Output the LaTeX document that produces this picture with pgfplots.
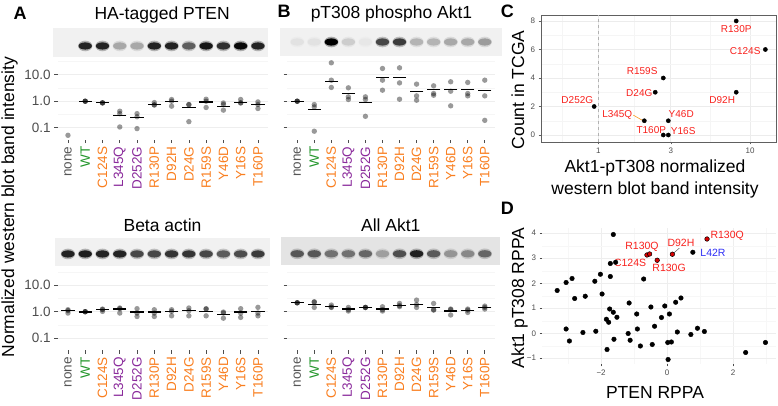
\documentclass[border=0pt]{standalone}
\usepackage{fontspec}
\setmainfont{Liberation Sans}
\usepackage{pgfplots}
\usepackage{pgfplotstable}
\pgfplotsset{compat=1.18}
\definecolor{cnone}{HTML}{555555}
\definecolor{cgreen}{HTML}{23962B}
\definecolor{corange}{HTML}{F97E1F}
\definecolor{cpurple}{HTML}{8A2A9B}
\definecolor{cred}{HTML}{F8201C}
\definecolor{cblue}{HTML}{2E2EF5}
\definecolor{ctick}{HTML}{4D4D4D}
\definecolor{blotbg}{HTML}{F1F1F1}
\definecolor{blotbgB}{HTML}{E4E4E4}

% ---------- data ----------
\pgfplotstableread{
x y i
0 0.38 0
1 0.38 0.85
2 0.38 0.85
3 0.38 0.30
4 0.38 0.30
5 0.38 0.85
6 0.38 0.85
7 0.38 0.60
8 0.38 0.90
9 0.38 0.80
10 0.38 0.95
11 0.38 0.85
}\blotAtop
\pgfplotstableread{
x y i
0 0.5 0.06
1 0.5 0.06
2 0.5 1.00
3 0.5 0.15
4 0.5 0.04
5 0.5 0.70
6 0.5 0.75
7 0.5 0.25
8 0.5 0.25
9 0.5 0.30
10 0.5 0.30
11 0.5 0.35
}\blotBtop
\pgfplotstableread{
x y i
0 0.43 0.85
1 0.43 0.88
2 0.43 0.85
3 0.43 0.85
4 0.43 0.70
5 0.43 0.70
6 0.43 0.78
7 0.43 0.78
8 0.43 0.70
9 0.43 0.62
10 0.43 0.68
11 0.43 0.75
}\blotAbot
\pgfplotstableread{
x y i
0 0.40 0.62
1 0.40 0.62
2 0.40 0.50
3 0.40 0.50
4 0.40 0.55
5 0.40 0.30
6 0.40 0.65
7 0.40 0.85
8 0.40 0.60
9 0.40 0.35
10 0.40 0.40
11 0.40 0.55
}\blotBbot

\pgfplotstableread{
x y
0 0.052
1 1.0
1 1.0
1 1.0
2 0.87
2 0.87
2 0.86
3 0.42
3 0.34
3 0.107
4 0.34
4 0.26
4 0.093
5 0.89
5 0.73
5 0.72
6 1.16
6 1.0
6 0.65
7 0.75
7 0.74
7 0.17
8 1.19
8 1.0
8 0.58
9 0.86
9 0.75
9 0.46
10 1.16
10 0.87
10 0.86
11 0.94
11 0.75
11 0.53
}\Atoppts
\pgfplotstableread{
x y
1 1.0
2 0.87
3 0.29
4 0.25
5 0.77
6 0.97
7 0.58
8 0.94
9 0.65
10 0.89
11 0.75
}\Atopmed

\pgfplotstableread{
x y
0 1.0
0 1.0
0 1.0
1 0.75
1 0.61
1 0.074
2 28
2 6.2
2 3.3
3 3.2
3 1.46
3 1.16
4 1.46
4 1.16
4 0.27
5 17.1
5 6.2
5 2.6
6 18.1
6 4.9
6 1.19
7 4.4
7 1.59
7 1.09
8 3.8
8 1.95
8 1.68
9 5.4
9 2.38
9 0.67
10 5.1
10 1.95
10 1.59
11 6.2
11 1.59
11 0.19
}\Btoppts
\pgfplotstableread{
x y
0 1.0
1 0.50
2 5.7
3 1.89
4 0.87
5 7.8
6 7.8
7 2.25
8 2.76
9 2.84
10 2.84
11 2.6
}\Btopmed

\pgfplotstableread{
x y
0 1.19
0 0.89
0 1.10
1 1.0
1 1.0
1 1.0
2 1.26
2 1.03
2 1.20
3 1.38
3 0.89
3 1.30
4 1.30
4 0.89
4 0.66
5 1.19
5 0.89
5 0.66
6 1.19
6 1.03
6 0.70
7 1.38
7 1.09
7 0.70
8 1.30
8 1.25
8 0.70
9 0.97
9 0.90
9 0.57
10 1.30
10 0.89
10 0.61
11 1.46
11 0.89
11 0.70
}\Abotpts
\pgfplotstableread{
x y
0 1.09
1 0.97
2 1.19
3 1.26
4 0.97
5 0.97
6 1.03
7 1.09
8 1.03
9 0.79
10 0.97
11 1.0
}\Abotmed

\pgfplotstableread{
x y
0 2.17
0 2.17
0 2.17
1 2.37
1 2.30
1 1.45
2 1.78
2 1.45
2 1.50
3 1.45
3 1.06
3 1.20
4 1.45
4 1.45
4 1.45
5 1.54
5 1.06
5 1.20
6 2.05
6 1.55
6 1.70
7 2.74
7 1.88
7 1.45
8 2.05
8 1.15
8 1.20
9 1.26
9 0.75
9 1.20
10 1.26
10 0.94
10 1.15
11 1.63
11 1.26
11 1.45
}\Bbotpts
\pgfplotstableread{
x y
0 2.17
1 1.88
2 1.54
3 1.26
4 1.45
5 1.26
6 1.73
7 1.88
8 1.45
9 1.06
10 1.15
11 1.45
}\Bbotmed

% Panel C: x = log10(normalized intensity), y = count
\pgfplotstableread{
x y
0.908 8
1.100 6
0.428 4
0.375 3
0.908 3
-0.027 2
0.303 1
0.461 1
0.428 0
0.461 0
}\Cpts

\pgfplotstableread{
x y
-3.33 1.71
-3.06 2.03
-2.88 2.19
-2.80 1.39
-3.06 0.17
-2.96 -0.31
-2.48 1.48
-2.55 0.03
-2.19 2.08
-2.16 0.08
-2.02 2.36
-1.97 1.57
-1.63 3.95
-1.72 2.79
-1.56 2.84
-1.72 2.27
-1.74 0.97
-1.63 0.84
-1.52 0.64
-1.84 0.56
-1.77 0.44
-1.61 -0.24
-1.82 -0.65
-1.15 1.21
-0.92 0.77
-1.18 -0.01
-1.12 -0.28
-0.90 0.17
-0.81 -0.51
-0.71 2.17
-0.49 1.05
-0.38 0.28
-0.45 -0.45
-0.17 0.63
-0.07 1.09
0.07 0.77
0.02 -0.37
0.13 -0.35
0.03 -1.05
0.26 1.24
0.42 1.41
0.31 0.05
0.72 -0.05
0.92 0.20
1.13 0.07
0.78 3.24
2.38 -0.77
2.98 -0.37
}\Dpts
\pgfplotstableread{
x y
-0.61 3.13
-0.53 3.17
-0.30 2.92
0.16 3.16
1.21 3.77
}\Dred

\pgfplotsset{
  myblotaxis/.style={scale only axis, axis line style={draw=none}, ticks=none,
    ymin=0, ymax=1, point meta min=0, point meta max=1,
    axis background/.style={fill=blotbg}, anchor=south west},
  mywbaxis/.style={scale only axis, anchor=south west, ymin=0.0355, ymax=43.6,
    xmin=-0.6, xmax=11.6, axis line style={draw=none},
    xtick={0,...,11},
    xticklabels={{\color{cnone}none},{\color{cgreen}WT},{\color{corange}C124S},{\color{cpurple}L345Q},{\color{cpurple}D252G},{\color{corange}R130P},{\color{corange}D92H},{\color{corange}D24G},{\color{corange}R159S},{\color{corange}Y46D},{\color{corange}Y16S},{\color{corange}T160P}},
    ytick={0.1,1,10}, yticklabels={0.1,1.0,10.0},
    minor ytick={0.0316,0.316,3.16,31.6},
    ymajorgrids, yminorgrids,
    major grid style={gray!13, line width=0.6pt},
    minor grid style={gray!7, line width=0.4pt},
    xtick pos=left, ytick pos=left, tick align=outside,
    major tick length=3.5pt, minor tick length=0pt,
    tick style={ctick, line width=0.6pt},
    x tick label style={rotate=90, anchor=east, font=\fontsize{13.5}{15}\selectfont},
    y tick label style={font=\fontsize{13.5}{15}\selectfont, text=ctick},
    clip=false},
  mydots/.style={only marks, mark=*, mark size=2.7, mark options={fill=black, fill opacity=0.4, draw opacity=0}},
  mymed/.style={only marks, mark=-, mark size=6.7, mark options={line width=1.2pt, draw=black}},
  myhalo/.style={scatter, only marks, mark=*, mark size=5.3, scatter src=explicit,
    scatter/use mapped color={draw=mapped color, fill=mapped color},
    mark options={xscale=1.35, fill opacity=0.3, draw opacity=0}},
  mycore/.style={scatter, only marks, mark=*, mark size=3.6, scatter src=explicit,
    scatter/use mapped color={draw=mapped color, fill=mapped color},
    mark options={xscale=1.85, draw opacity=0}},
}

\begin{document}
\begin{tikzpicture}
\useasboundingbox (0pt,0pt) rectangle (778pt,406pt);

% ===== Blots =====
\begin{axis}[myblotaxis, at={(53pt,349pt)}, width=215pt, height=29pt, xmin=-0.866, xmax=11.583,
  colormap={bA}{color=(blotbg) color=(black)}]
\addplot[myhalo] table[meta=i] {\blotAtop};
\addplot[mycore] table[meta=i] {\blotAtop};
\end{axis}
\begin{axis}[myblotaxis, at={(280pt,350pt)}, width=222pt, height=28pt, xmin=-1.01, xmax=12.01,
  colormap={bB}{color=(blotbg) color=(black)}]
\addplot[myhalo] table[meta=i] {\blotBtop};
\addplot[mycore] table[meta=i] {\blotBtop};
\end{axis}
\begin{axis}[myblotaxis, at={(55pt,140pt)}, width=215pt, height=28pt, xmin=-0.75, xmax=11.70,
  colormap={bC}{color=(blotbg) color=(black)}]
\addplot[myhalo] table[meta=i] {\blotAbot};
\addplot[mycore] table[meta=i] {\blotAbot};
\end{axis}
\begin{axis}[myblotaxis, at={(281pt,141pt)}, width=219pt, height=28pt, xmin=-0.95, xmax=11.89,
  axis background/.style={fill=blotbgB},
  colormap={bD}{color=(blotbgB) color=(black)}]
\addplot[myhalo] table[meta=i] {\blotBbot};
\addplot[mycore] table[meta=i] {\blotBbot};
\end{axis}

% ===== Panel A top =====
\begin{axis}[ymode=log, mywbaxis, at={(57.6pt,266.3pt)}, width=210.7pt, height=82pt]
\addplot[mydots] table {\Atoppts};
\addplot[mymed] table {\Atopmed};
\end{axis}
% ===== Panel B top =====
\begin{axis}[ymode=log, mywbaxis, at={(287pt,266.3pt)}, width=208pt, height=82pt, yticklabels={}]
\addplot[mydots] table {\Btoppts};
\addplot[mymed] table {\Btopmed};
\end{axis}
% ===== Panel A bottom =====
\begin{axis}[ymode=log, mywbaxis, at={(57.6pt,55.8pt)}, width=210.7pt, height=82pt]
\addplot[mydots] table {\Abotpts};
\addplot[mymed] table {\Abotmed};
\end{axis}
% ===== Panel B bottom =====
\begin{axis}[ymode=log, mywbaxis, at={(287pt,55.8pt)}, width=208pt, height=82pt, yticklabels={}]
\addplot[mydots] table {\Bbotpts};
\addplot[mymed] table {\Bbotmed};
\end{axis}

% ===== Panel C =====
\begin{axis}[scale only axis, anchor=south west, at={(541pt,264pt)}, width=235pt, height=127pt,
  xmin=-0.377, xmax=1.170, ymin=-0.49, ymax=8.42,
  xtick={0,0.4771,1}, xticklabels={1,3,10}, ytick={0,2,4,6,8}, yticklabels={0,2,4,6,8},
  minor xtick={-0.2386,0.2386,0.7386}, minor ytick={1,3,5,7},
  grid=both, major grid style={gray!15, line width=0.6pt}, minor grid style={gray!8, line width=0.4pt},
  axis line style={gray!75!black, line width=0.7pt},
  xtick pos=left, ytick pos=left, tick align=outside, major tick length=2.5pt, minor tick length=0pt,
  tick style={gray!75!black, line width=0.5pt},
  tick label style={font=\fontsize{8}{9}\selectfont, text=ctick},
  clip=false]
\addplot[gray!60, dashed, line width=0.7pt] coordinates {(0,-0.49) (0,8.42)};
\addplot[corange!80!yellow, line width=0.6pt] coordinates {(0.230,1.40) (0.290,1.03)};
\addplot[only marks, mark=*, mark size=2.1, black] table {\Cpts};
\node[font=\fontsize{10}{12}\selectfont, text=cred] at (axis cs:0.908,7.44) {R130P};
\node[font=\fontsize{10}{12}\selectfont, text=cred] at (axis cs:0.967,5.89) {C124S};
\node[font=\fontsize{10}{12}\selectfont, text=cred] at (axis cs:0.289,4.49) {R159S};
\node[font=\fontsize{10}{12}\selectfont, text=cred] at (axis cs:0.270,2.95) {D24G};
\node[font=\fontsize{10}{12}\selectfont, text=cred] at (axis cs:0.816,2.46) {D92H};
\node[font=\fontsize{10}{12}\selectfont, text=cred] at (axis cs:-0.138,2.46) {D252G};
\node[font=\fontsize{10}{12}\selectfont, text=cred] at (axis cs:0.125,1.40) {L345Q};
\node[font=\fontsize{10}{12}\selectfont, text=cred] at (axis cs:0.546,1.47) {Y46D};
\node[font=\fontsize{10}{12}\selectfont, text=cred] at (axis cs:0.349,0.35) {T160P};
\node[font=\fontsize{10}{12}\selectfont, text=cred] at (axis cs:0.559,0.28) {Y16S};
\end{axis}

% ===== Panel D =====
\begin{axis}[scale only axis, anchor=south west, at={(542pt,42pt)}, width=234pt, height=136pt,
  xmin=-3.79, xmax=3.30, ymin=-1.23, ymax=4.21,
  xtick={-2,0,2}, xticklabels={−2,0,2}, ytick={-1,0,1,2,3,4}, yticklabels={−1,0,1,2,3,4},
  minor xtick={-3,-1,1,3}, minor ytick={-0.5,0.5,1.5,2.5,3.5},
  grid=both, major grid style={gray!13, line width=0.6pt}, minor grid style={gray!6, line width=0.4pt},
  axis line style={draw=none},
  xtick pos=left, ytick pos=left, tick align=outside, major tick length=2.5pt, minor tick length=0pt,
  tick style={gray!60!black, line width=0.5pt},
  tick label style={font=\fontsize{8}{9}\selectfont, text=ctick},
  clip=false]
\addplot[gray!50!black, line width=0.4pt] coordinates {(0.19,3.20) (0.37,3.40)};
\addplot[only marks, mark=*, mark size=2.3, black] table {\Dpts};
\addplot[only marks, mark=*, mark size=2.3, mark options={fill=red!85!black, draw=black, line width=0.5pt}] table {\Dred};
\node[font=\fontsize{10.5}{12}\selectfont, text=cred] at (axis cs:1.82,3.89) {R130Q};
\node[font=\fontsize{10.5}{12}\selectfont, text=cred] at (axis cs:-0.76,3.45) {R130Q};
\node[font=\fontsize{10.5}{12}\selectfont, text=cred] at (axis cs:0.42,3.61) {D92H};
\node[font=\fontsize{10.5}{12}\selectfont, text=cred] at (axis cs:-1.12,2.81) {C124S};
\node[font=\fontsize{10.5}{12}\selectfont, text=cred] at (axis cs:0.06,2.61) {R130G};
\node[font=\fontsize{10.5}{12}\selectfont, text=cblue] at (axis cs:1.39,3.21) {L42R};
\end{axis}

% ===== Titles and labels =====
\begin{scope}[every node/.style={font=\fontsize{17.5}{21}\selectfont, inner sep=0pt}]
\node[anchor=base] at (162.2pt,386pt) {HA-tagged PTEN};
\node[anchor=base] at (391.5pt,387pt) {pT308 phospho Akt1};
\node[anchor=base] at (162.5pt,174.3pt) {Beta actin};
\node[anchor=base] at (390.8pt,174.3pt) {All Akt1};
\node[anchor=base, rotate=90] at (14pt,199pt) {Normalized western blot band intensity};
\node[anchor=base, rotate=90] at (524pt,316pt) {Count in TCGA};
\node[anchor=base, rotate=90] at (524pt,108pt) {Akt1 pT308 RPPA};
\node[anchor=base] at (655pt,233.3pt) {Akt1-pT308 normalized};
\node[anchor=base] at (655pt,211.7pt) {western blot band intensity};
\node[anchor=base] at (655pt,7pt) {PTEN RPPA};
\end{scope}
\begin{scope}[every node/.style={font=\fontsize{18}{21}\bfseries, inner sep=0pt, anchor=base west}]
\node at (13.3pt,386pt) {A};
\node at (277.3pt,388pt) {B};
\node at (500.7pt,388pt) {C};
\node at (500.7pt,191pt) {D};
\end{scope}
\end{tikzpicture}
\end{document}
